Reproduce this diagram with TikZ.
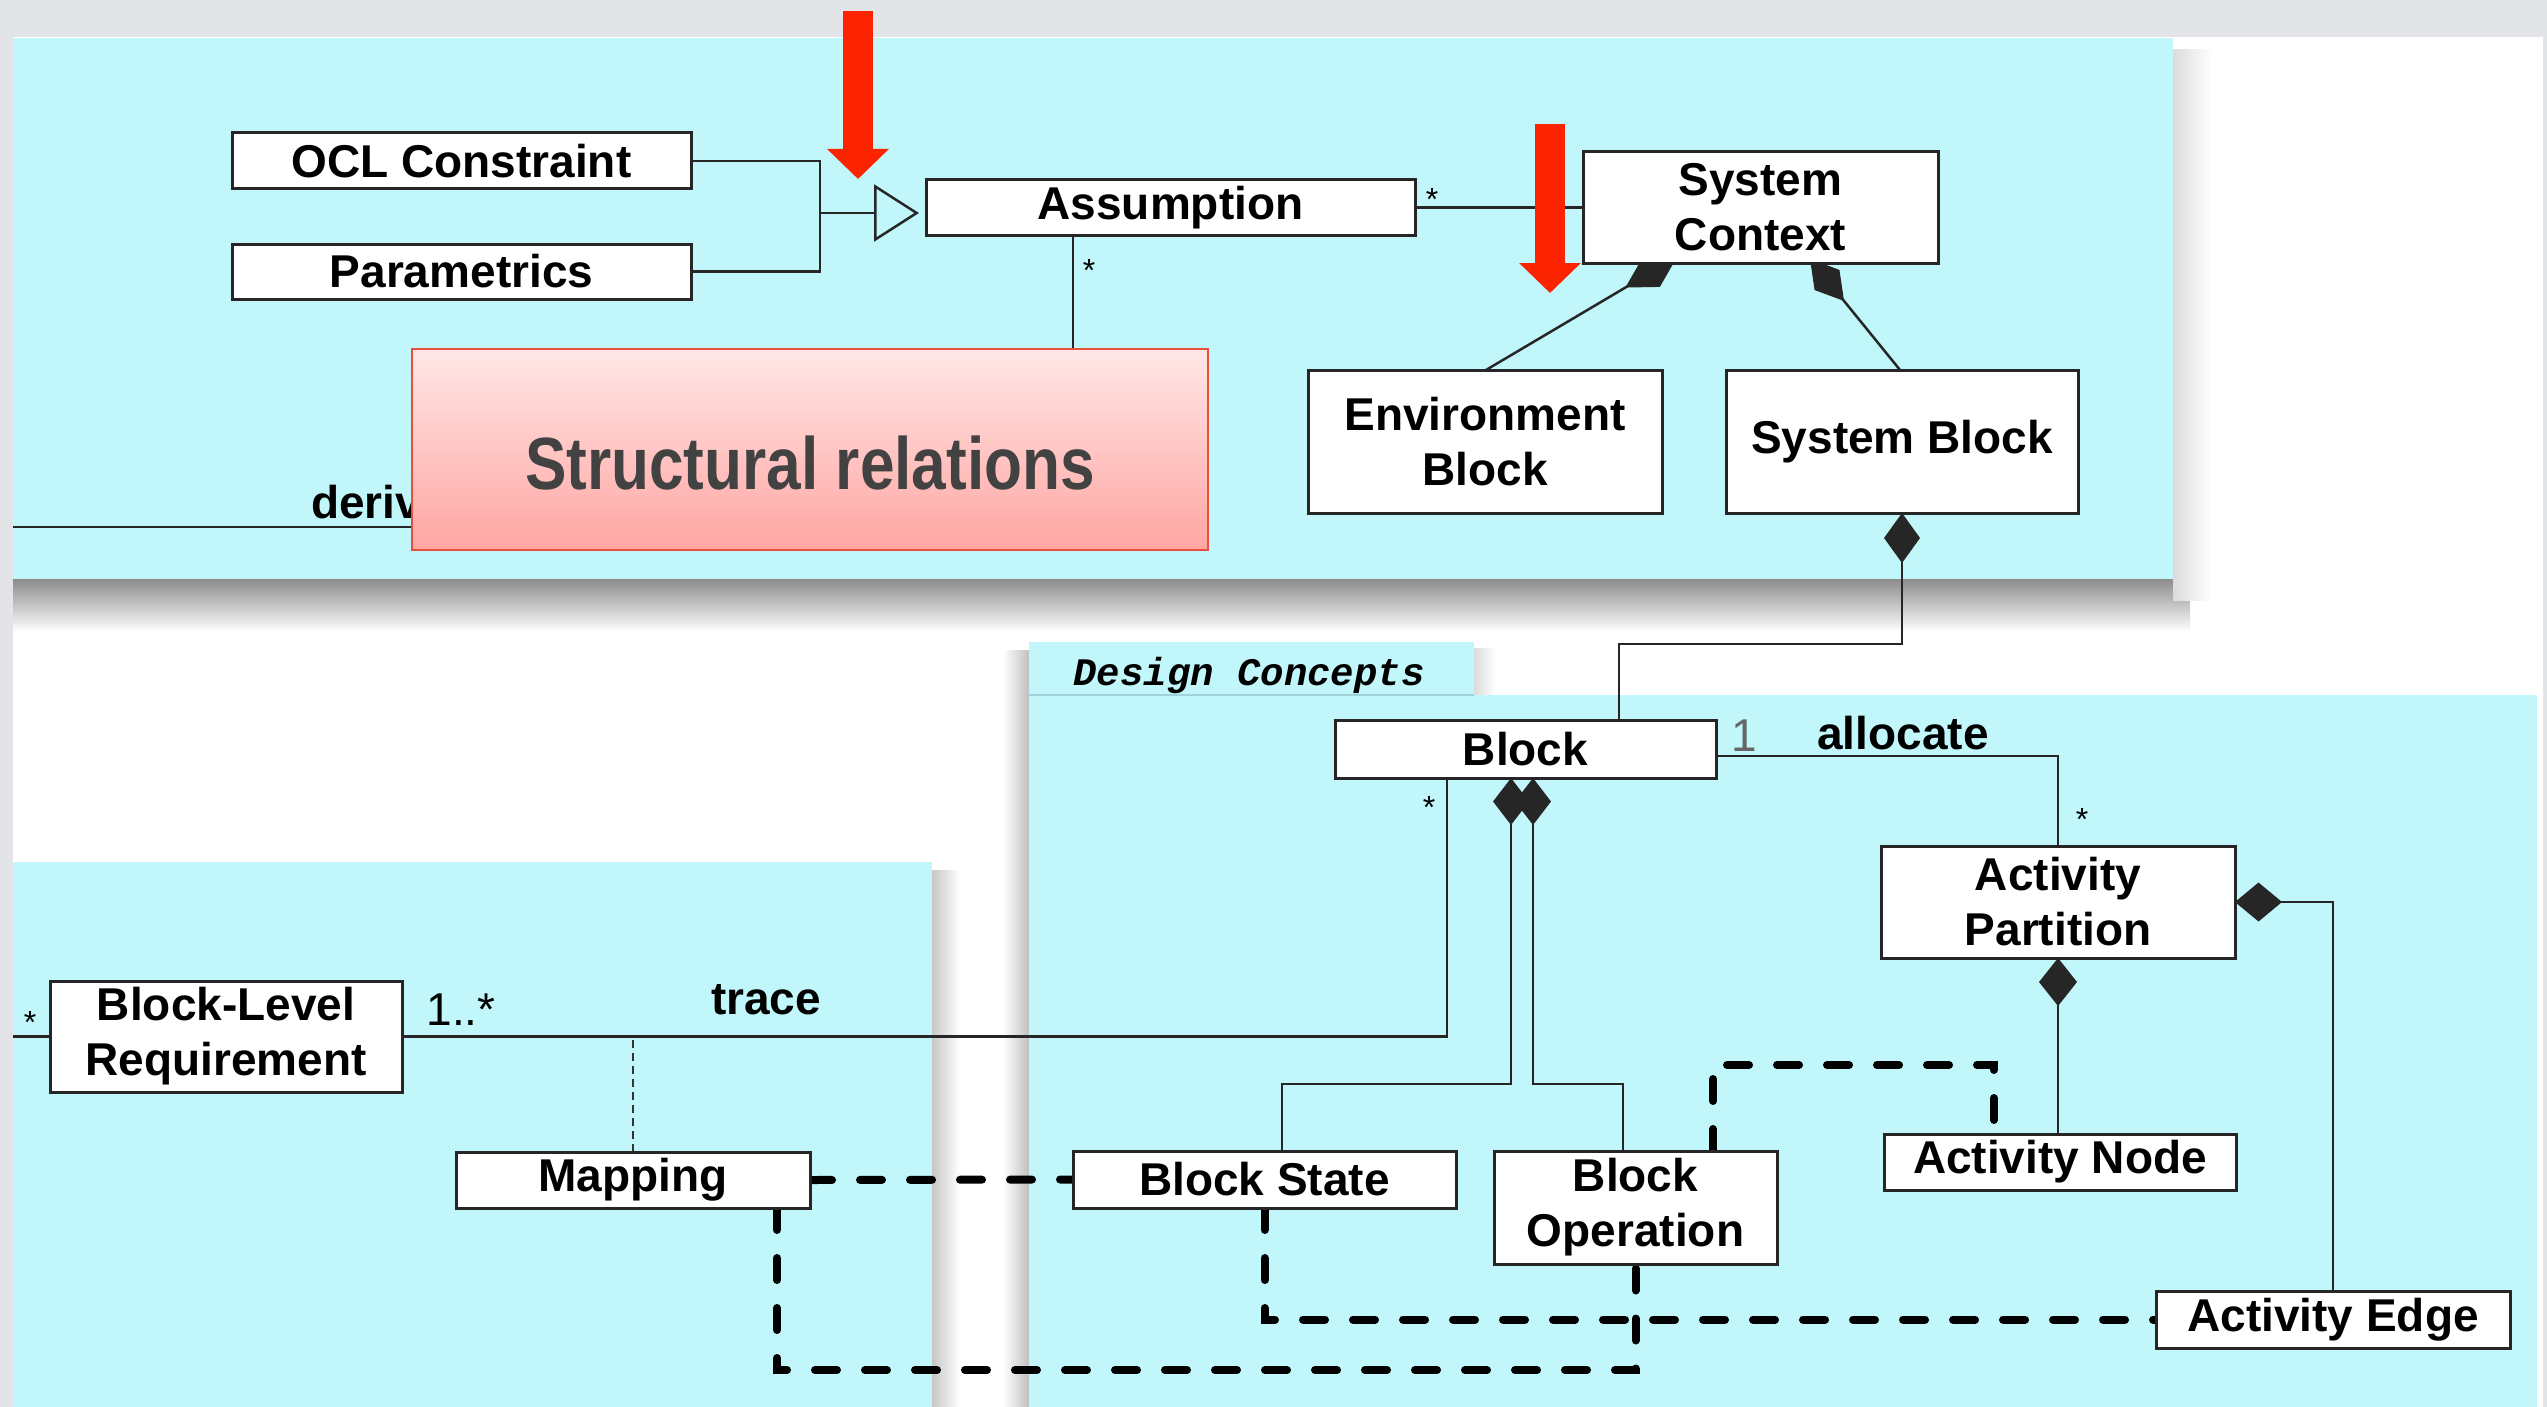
\documentclass[tikz,border=0pt]{standalone}
\usepackage{fontspec}
\usepackage{graphicx}
\usetikzlibrary{arrows.meta,calc}
\newfontfamily\umlfont{Liberation Sans}
\newfontfamily\dcfamily{Liberation Mono}
\definecolor{panel}{RGB}{193,247,250}
\definecolor{bggrey}{RGB}{226,228,232}
\definecolor{tabline}{RGB}{160,212,218}
\definecolor{redtop}{RGB}{255,231,231}
\definecolor{redbot}{RGB}{255,166,162}
\definecolor{redborder}{RGB}{232,80,60}
\definecolor{arrowred}{RGB}{252,36,0}
\definecolor{srtext}{RGB}{66,66,66}
\newcommand{\boxfont}{\umlfont\bfseries\fontsize{46pt}{55pt}\selectfont}
\newcommand{\lblfont}{\umlfont\bfseries\fontsize{46pt}{55pt}\selectfont}
\newcommand{\lblregfont}{\umlfont\fontsize{46pt}{55pt}\selectfont}
\newcommand{\starfont}{\umlfont\fontsize{32pt}{32pt}\selectfont}
\newcommand{\dcfont}{\dcfamily\bfseries\itshape\fontsize{39pt}{39pt}\selectfont}
\newcommand{\srfont}{\umlfont\bfseries\fontsize{74pt}{80pt}\selectfont}
\pgfdeclarelayer{back}
\pgfdeclarelayer{edges}
\pgfdeclarelayer{front}
\pgfsetlayers{back,edges,main,front}
\begin{document}
\begin{tikzpicture}[x=1pt,y=-1pt,
  box/.style={draw=black!85, line width=3pt, fill=white, inner sep=0pt, outer sep=0pt, align=center, anchor=north west, font=\boxfont},
  conn/.style={draw=black!85, line width=2.5pt},
  dashthick/.style={draw=black, line width=8pt, dash pattern=on 22pt off 28pt, line cap=round},
  thindash/.style={draw=black!80, line width=1.5pt, dash pattern=on 8pt off 5pt},
  lbl/.style={font=\lblfont, inner sep=0pt},
  lblreg/.style={font=\lblregfont, inner sep=0pt},
  starlbl/.style={font=\starfont, inner sep=0pt},
  redarrow/.style={draw=arrowred, line width=30pt, -{Triangle[length=30pt,width=60pt,fill=arrowred]}},
  redbox/.style={draw=redborder, line width=2pt, top color=redtop, bottom color=redbot, inner sep=0pt, font=\srfont, text=srtext}
]
\useasboundingbox (0,0) rectangle (2547,1407);

% ---------- background and panels ----------
\begin{pgfonlayer}{back}
\fill[bggrey] (0,0) rectangle (2547,1407);
\fill[white] (13,37) rectangle (2543,1407);
\shade[top color=black!45, bottom color=white] (13,579) rectangle (2190,632);
\shade[left color=black!14, right color=white] (2173,50) rectangle (2212,600);
\fill[panel] (13,38) rectangle (2173,579);
\shade[left color=black!22, right color=white] (932,870) rectangle (960,1407);
\fill[panel] (13,862) rectangle (932,1407);
\shade[left color=white, right color=black!25] (1003,650) rectangle (1029,1407);
\shade[left color=black!14, right color=white] (1474,648) rectangle (1496,695);
\fill[panel] (1029,642) rectangle (1474,695);
\fill[panel] (1029,695) rectangle (2537,1407);
\draw[tabline, line width=2pt] (1029,695) -- (1474,695);
\end{pgfonlayer}

% ---------- class boxes ----------
\node[box, minimum width=459pt, minimum height=56pt] (ocl) at (232,133) {OCL Constraint};
\node[box, minimum width=459pt, minimum height=55pt] (param) at (232,244) {Parametrics};
\node[box, minimum width=489pt, minimum height=55pt] (assum) at (926,180) {Assumption};
\node[box, minimum width=355pt, minimum height=111pt] (sysctx) at (1583,152) {System\\Context};
\node[box, minimum width=354pt, minimum height=143pt] (env) at (1308,370) {Environment\\Block};
\node[box, minimum width=352pt, minimum height=143pt] (sysblk) at (1726,370) {System Block};
\node[box, minimum width=381pt, minimum height=58pt] (block) at (1335,720) {Block};
\node[box, minimum width=354pt, minimum height=112pt] (actpart) at (1881,846) {Activity\\Partition};
\node[box, minimum width=352pt, minimum height=56pt] (actnode) at (1884,1134) {Activity Node};
\node[box, minimum width=354pt, minimum height=57pt] (actedge) at (2156,1291) {Activity Edge};
\node[box, minimum width=383pt, minimum height=57pt] (bstate) at (1073,1151) {Block State};
\node[box, minimum width=283pt, minimum height=113pt] (bop) at (1494,1151) {Block\\Operation};
\node[box, minimum width=352pt, minimum height=111pt] (blr) at (50,981) {Block-Level\\Requirement};
\node[box, minimum width=354pt, minimum height=56pt] (mapping) at (456,1152) {Mapping};

% ---------- junction coordinates ----------
\coordinate (gj) at (820,213);
\coordinate (dv) at (1073,527);
\coordinate (dleft) at (13,527);
\coordinate (bj) at (1619,644);
\coordinate (bsj) at (1282,1084);
\coordinate (bopj) at (1623,1084);
\coordinate (blrleft) at (13,1036.5);

% ---------- connectors ----------
\begin{pgfonlayer}{edges}
\draw[conn] (ocl.east) -| (gj);
\draw[conn] (param.east) -| (gj);
\draw[conn, -{Triangle[open,length=45pt,width=57pt]}, shorten >=7pt] (gj) -- (gj -| assum.west);
\draw[conn] (assum.east) -- (assum.east -| sysctx.west);
\draw[conn] (dv |- assum.south) -- (dv) -- (dleft);
\draw[conn, {Diamond[length=60pt,width=34pt]}-] ($(sysctx.south west)+(94,-6)$) -- ($(env.north west)+(178,0)$);
\draw[conn, {Diamond[length=54pt,width=32pt]}-] ($(sysctx.south west)+(227,-4)$) -- ($(sysblk.north west)+(174,0)$);
\draw[conn, {Diamond[length=50pt,width=36pt]}-] (sysblk.south) |- (bj) -- (bj |- block.north);
\draw[conn] ($(block.east)+(0,7)$) -| (actpart.north);
\draw[conn] ($(block.south west)+(112,0)$) |- (blr.east);
\draw[conn] (blrleft) -- (blr.west);
\draw[thindash] (mapping.north) -- (mapping.north |- blr.east);
\draw[conn, {Diamond[length=47pt,width=36pt]}-] ($(block.south west)+(176,0)$) |- (bsj) -- (bsj |- bstate.north);
\draw[conn, {Diamond[length=47pt,width=36pt]}-] ($(block.south west)+(198,0)$) |- (bopj) -- (bopj |- bop.north);
\draw[conn, {Diamond[length=48pt,width=38pt]}-] (actpart.south) -- (actpart.south |- actnode.north);
\draw[conn, {Diamond[length=47pt,width=39pt]}-] (actpart.east) -| (actedge.north);
\draw[dashthick] (mapping.east) -- (bstate.west);
\draw[dashthick] ($(mapping.south west)+(321,0)$) |- ($(bop.south)+(0,106)$) -- (bop.south);
\draw[dashthick] (bstate.south) |- (actedge.west);
\draw[dashthick] ($(bop.north west)+(219,0)$) |- ($(actnode.north west)+(110,-69)$) -- ($(actnode.north west)+(110,0)$);
\end{pgfonlayer}

% ---------- labels ----------
\node[starlbl] (s1) at (1432,199) {*};
\node[starlbl] (s2) at (1089,270) {*};
\node[starlbl] (s3) at (1429,807) {*};
\node[starlbl] (s4) at (2082,819) {*};
\node[starlbl] (s5) at (30,1022) {*};
\node[lbl, anchor=base west] (lderiv) at (311,518) {deriv};
\node[lblreg, text=black!60] (lone) at (1744,736) {1};
\node[lbl] (lalloc) at (1903,733) {allocate};
\node[lblreg] (lmult) at (461,1010) {1..*};
\node[lbl] (ltrace) at (766,1000) {trace};
\node[font=\dcfont, anchor=base, inner sep=0pt] (dclabel) at (1249,685) {Design Concepts};

% ---------- overlay box ----------
\node[redbox, minimum width=796pt, minimum height=201pt, text height=79pt, text depth=0pt] (sr) at (810,449.5) {\scalebox{0.84}[1]{Structural relations}};

% ---------- red arrows ----------
\coordinate (ra1s) at (858,11);
\coordinate (ra1e) at (858,179);
\coordinate (ra2s) at (1550,124);
\coordinate (ra2e) at (1550,293);
\begin{pgfonlayer}{front}
\draw[redarrow] (ra1s) -- (ra1e);
\draw[redarrow] (ra2s) -- (ra2e);
\end{pgfonlayer}
\end{tikzpicture}
\end{document}
